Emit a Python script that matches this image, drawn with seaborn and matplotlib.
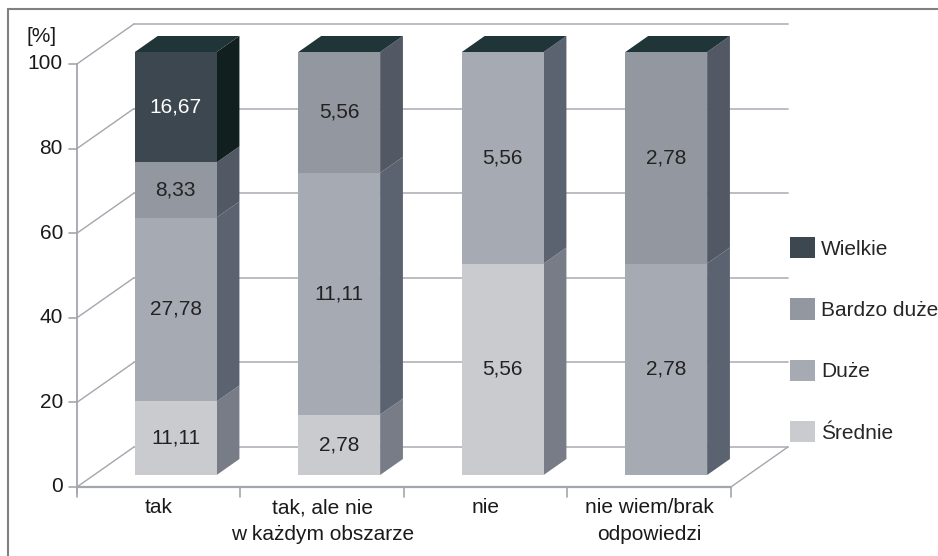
import numpy as np
import matplotlib
matplotlib.use("Agg")
import matplotlib.pyplot as plt
from matplotlib.patches import Polygon, Patch
from matplotlib.lines import Line2D
import seaborn as sns

# ---- data -------------------------------------------------------------
categories = ["tak", "tak, ale nie\nw każdym obszarze", "nie", "nie wiem/brak\nodpowiedzi"]
series_names = ["Średnie", "Duże", "Bardzo duże", "Wielkie"]
srednie = [11.11, 2.78, 5.56, 0.0]
duze = [27.78, 11.11, 5.56, 2.78]
bardzo_duze = [8.33, 5.56, 0.0, 2.78]
wielkie = [16.67, 0.0, 0.0, 0.0]
y_ticks = [0, 20, 40, 60, 80, 100]
y_tick_labels = ["0", "20", "40", "60", "80", "100"]
unit_label = "[%]"

# ---- style ------------------------------------------------------------
front_colors = ["#c9cbcf", "#a6aab2", "#9397a0", "#3d474f"]
side_colors = ["#777c87", "#5c6370", "#535964", "#11201f"]
top_color = "#1f3538"
text_colors = ["#222222", "#222222", "#222222", "#ffffff"]
grid_color = "#b4b7bd"
axis_color = "#a3a6ac"

sns.set_theme(style="white")
plt.rcParams["font.family"] = ["Liberation Sans", "DejaVu Sans"]
FS = 15

W, H = 938, 556
fig = plt.figure(figsize=(W / 100, H / 100), dpi=100)
fig.patch.set_facecolor("white")

# bar plane in pixels: x=-0.5 at 94, 163.5 px per category; v=0 at 475 from top
ax_left, ax_w = 94.0, 654.0
ax_top_px, ax_h = 52.0, 423.0
ax = fig.add_axes([ax_left / W, (H - ax_top_px - ax_h) / H, ax_w / W, ax_h / H])

px_x = ax_w / 4.0
px_y = ax_h / 100.0
DEPTH_X, DEPTH_Y = 57.0 / px_x, 40.0 / px_y   # full depth vector in data units
BAR_FRONT, BAR_BACK = 0.3, 0.7                # depth of bar faces


def at(x, y, d):
    """Point at depth d relative to the bar plane (which sits at BAR_FRONT)."""
    return x + (d - BAR_FRONT) * DEPTH_X, y + (d - BAR_FRONT) * DEPTH_Y


values = np.array([srednie, duze, bardzo_duze, wielkie])
totals = values.sum(axis=0)
shares = values / totals * 100.0
bottoms = np.vstack([np.zeros(len(categories)), np.cumsum(shares, axis=0)[:-1]])

bar_w = 0.5
for k in range(len(series_names)):
    sns.barplot(x=categories, y=shares[k], bottom=bottoms[k], color=front_colors[k],
                saturation=1, width=bar_w, errorbar=None, linewidth=0, ax=ax, zorder=3)

ax.set_xlim(-0.5, 3.5)
ax.set_ylim(0, 100)
ax.axis("off")

# ---- back wall, left wall, floor --------------------------------------
x0, x1 = -0.5, len(categories) - 0.5
for v, lab in zip(y_ticks, y_tick_labels):
    bx0, by = at(x0, v, 1.0)
    bx1, _ = at(x1, v, 1.0)
    ax.add_line(Line2D([bx0, bx1], [by, by], color=grid_color, lw=1.3, zorder=1, clip_on=False))
    fx, fy = at(x0, v, 0.0)
    ax.add_line(Line2D([fx, bx0], [fy, by], color=axis_color, lw=1.0, zorder=1, clip_on=False))
    tick = 8.0 / px_x
    ax.add_line(Line2D([fx - tick, fx], [fy, fy], color=axis_color, lw=1.2, zorder=1, clip_on=False))
    ax.text(fx - 14.0 / px_x, fy, lab, ha="right", va="center",
            fontsize=FS, color="#1a1a1a", clip_on=False)

fx0, fy0 = at(x0, 0, 0.0)
fx1, _ = at(x1, 0, 0.0)
_, fy100 = at(x0, 100, 0.0)
ax.add_line(Line2D([fx0, fx0], [fy0 - 6.0 / px_y, fy100], color=axis_color, lw=1.3, zorder=1, clip_on=False))
ax.add_line(Line2D([fx0, fx1], [fy0, fy0], color=axis_color, lw=1.6, zorder=1, clip_on=False))
bx1, by0 = at(x1, 0, 1.0)
ax.add_line(Line2D([fx1, bx1], [fy0, by0], color=axis_color, lw=1.0, zorder=1, clip_on=False))
for i in range(len(categories) + 1):
    tx, _ = at(i - 0.5, 0, 0.0)
    ax.add_line(Line2D([tx, tx], [fy0, fy0 - 10.0 / px_y], color=axis_color, lw=1.2, zorder=1, clip_on=False))

for i, cat in enumerate(categories):
    cx, _ = at(i, 0, 0.0)
    ax.text(cx, fy0 - 11.0 / px_y, cat, ha="center", va="top", fontsize=FS,
            color="#1a1a1a", linespacing=1.5, clip_on=False)

ax.text(fx0 - 50.0 / px_x, fy100 + 27.0 / px_y, unit_label, ha="left", va="center",
        fontsize=FS, color="#1a1a1a", clip_on=False)

# ---- bar sides, tops, value labels -----------------------------------
for i in range(len(categories)):
    xr = i + bar_w / 2
    xl = i - bar_w / 2
    for k in range(len(series_names)):
        h = shares[k][i]
        if h <= 0:
            continue
        b = bottoms[k][i]
        p1 = at(xr, b, BAR_FRONT)
        p2 = at(xr, b + h, BAR_FRONT)
        p3 = at(xr, b + h, BAR_BACK)
        p4 = at(xr, b, BAR_BACK)
        ax.add_patch(Polygon([p1, p2, p3, p4], closed=True, facecolor=side_colors[k],
                             edgecolor="none", zorder=2, clip_on=False))
        ax.text(i, b + h / 2, f"{values[k][i]:.2f}".replace(".", ","), ha="center", va="center",
                fontsize=FS, color=text_colors[k], zorder=5, clip_on=False)
    top = bottoms[-1][i] + shares[-1][i]
    ax.add_patch(Polygon([at(xl, top, BAR_FRONT), at(xr, top, BAR_FRONT),
                          at(xr, top, BAR_BACK), at(xl, top, BAR_BACK)], closed=True,
                         facecolor=top_color, edgecolor="none", zorder=2, clip_on=False))

# ---- legend -----------------------------------------------------------
handles = [Patch(facecolor=front_colors[k], edgecolor="none", label=series_names[k])
           for k in range(len(series_names) - 1, -1, -1)]
fig.legend(handles=handles, loc="upper left", bbox_to_anchor=(790 / W, (H - 237) / H),
           frameon=False, fontsize=FS, handlelength=1.2, handleheight=1.2,
           handletextpad=0.3, labelspacing=1.9, borderpad=0, borderaxespad=0)

# ---- outer frame ------------------------------------------------------
fig.add_artist(Line2D([8 / W, 1.0], [1 - 9 / H, 1 - 9 / H], transform=fig.transFigure,
                      color="#808080", lw=1.5))
fig.add_artist(Line2D([8 / W, 8 / W], [1 - 9 / H, 0.0], transform=fig.transFigure,
                      color="#808080", lw=1.5))

fig.savefig("out.png", dpi=100, facecolor="white")
